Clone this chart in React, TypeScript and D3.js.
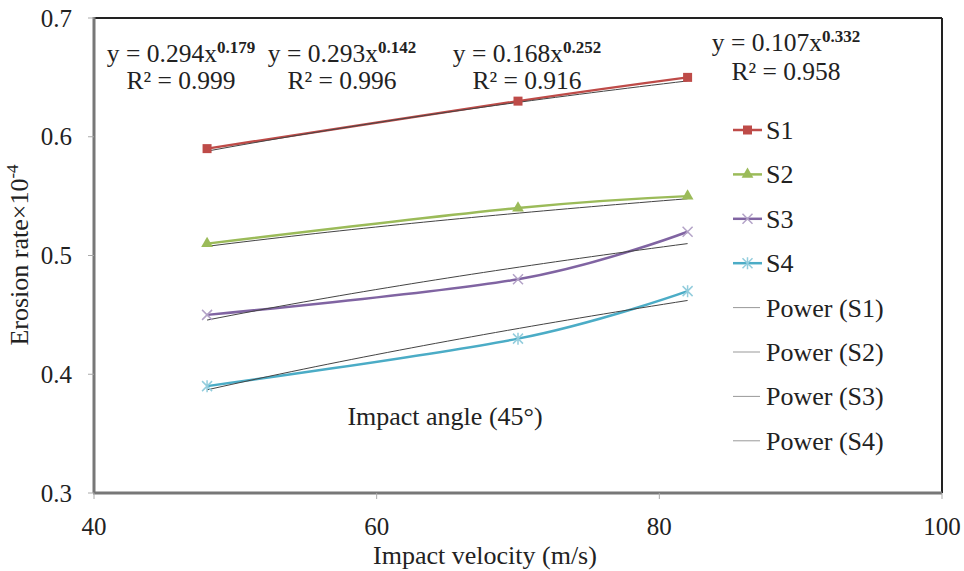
import React from "react";
import * as d3 from "d3";

// impact velocity (m/s)
const velocities = [48, 70, 82];
const seriesNames = ["S1", "S2", "S3", "S4"];
const s1 = [0.59, 0.63, 0.65];
const s2 = [0.51, 0.54, 0.55];
const s3 = [0.45, 0.48, 0.52];
const s4 = [0.39, 0.43, 0.47];
const seriesValues = [s1, s2, s3, s4];
const lineColors = ["#BE4B48", "#9BBB59", "#8064A2", "#4BACC6"];
const markerColors = ["#BE4B48", "#9BBB59", "#B3A2C7", "#93CDDD"];

// power trendlines y = a * x^b
const coefA = [0.294, 0.293, 0.168, 0.107];
const coefB = [0.179, 0.142, 0.252, 0.332];
const eqA = ["0.294", "0.293", "0.168", "0.107"];
const eqB = ["0.179", "0.142", "0.252", "0.332"];
const rSquared = ["0.999", "0.996", "0.916", "0.958"];

const xTicks = [40, 60, 80, 100];
const yTicks = [0.3, 0.4, 0.5, 0.6, 0.7];

const W = 964, H = 571;
const margin = { left: 94, right: 22, top: 18, bottom: 78 };
const font = "Liberation Serif, Times New Roman, DejaVu Serif, serif";

function Marker({ kind, x, y, color }: { kind: number; x: number; y: number; color: string }) {
    if (kind === 0) {
        return <rect x={x - 4.5} y={y - 4.5} width={9} height={9} fill={color} />;
    }
    if (kind === 1) {
        return <path d={d3.symbol(d3.symbolTriangle, 60)()!} transform={`translate(${x},${y})`} fill={color} />;
    }
    if (kind === 2) {
        return (
            <path d={`M${x - 5},${y - 5}L${x + 5},${y + 5}M${x - 5},${y + 5}L${x + 5},${y - 5}`}
                stroke={color} strokeWidth={1.5} fill="none" />
        );
    }
    return (
        <path d={`M${x - 5},${y - 5}L${x + 5},${y + 5}M${x - 5},${y + 5}L${x + 5},${y - 5}M${x},${y - 6}L${x},${y + 6}`}
            stroke={color} strokeWidth={1.5} fill="none" />
    );
}

export default function App() {
    const x = d3.scaleLinear().domain([40, 100]).range([margin.left, W - margin.right]);
    const y = d3.scaleLinear().domain([0.3, 0.7]).range([H - margin.bottom, margin.top]);

    const line = d3.line<[number, number]>()
        .x(d => x(d[0]))
        .y(d => y(d[1]))
        .curve(d3.curveCardinal.tension(0));

    const trendLine = d3.line<number>()
        .x(d => x(d));
    const xMin = d3.min(velocities)!, xMax = d3.max(velocities)!;
    const samples = d3.range(0, 41).map(i => xMin + (xMax - xMin) * i / 40);

    const eqPos = [
        { cx: 181, y1: 62, y2: 89 },
        { cx: 342, y1: 62, y2: 89 },
        { cx: 527, y1: 62, y2: 89 },
        { cx: 786, y1: 51, y2: 80 },
    ];

    const legendX = 733;
    const legendY0 = 130;
    const legendStep = 44.4;

    const x0 = margin.left, x1 = W - margin.right;
    const y0 = H - margin.bottom, y1 = margin.top;

    return (
        <svg width={W} height={H} style={{ position: "absolute", left: 0, top: 0, background: "#fff", fontFamily: font }}>
            {/* frame */}
            <line x1={x0} x2={x1} y1={y1} y2={y1} stroke="#222" strokeWidth={2} />
            <line x1={x1} x2={x1} y1={y1} y2={y0} stroke="#222" strokeWidth={2} />
            <line x1={x0} x2={x0} y1={y1 - 1} y2={y0} stroke="#777" strokeWidth={3} />
            <line x1={x0 - 1} x2={x1} y1={y0} y2={y0} stroke="#777" strokeWidth={3} />

            {/* y ticks */}
            {yTicks.map(t => (
                <g key={t}>
                    <line x1={x0 - 6} x2={x0} y1={y(t)} y2={y(t)} stroke="#aaa" strokeWidth={1} />
                    <text x={72} y={y(t) + 8.5} textAnchor="end" fontSize={25} fill="#222">{t.toFixed(1)}</text>
                </g>
            ))}
            {/* x ticks */}
            {xTicks.map(t => (
                <g key={t}>
                    <line x1={x(t)} x2={x(t)} y1={y0} y2={y0 + 6} stroke="#aaa" strokeWidth={1} />
                    <text x={x(t)} y={535} textAnchor="middle" fontSize={25} fill="#222">{t}</text>
                </g>
            ))}

            <text x={485} y={564} textAnchor="middle" fontSize={26} fill="#222">Impact velocity (m/s)</text>
            <text transform={`translate(28,255) rotate(-90)`} textAnchor="middle" fontSize={26} fill="#222">
                Erosion rate×10<tspan fontSize={17} dy={-10}>-4</tspan>
            </text>

            {/* series lines */}
            {seriesValues.map((vals, i) => (
                <path key={"s" + i}
                    d={line(velocities.map((v, j) => [v, vals[j]] as [number, number]))!}
                    fill="none" stroke={lineColors[i]} strokeWidth={2.5} />
            ))}

            {/* power trendlines */}
            {coefA.map((a, i) => (
                <path key={"t" + i}
                    d={trendLine.y(v => y(a * Math.pow(v, coefB[i])))(samples)!}
                    fill="none" stroke="#444" strokeWidth={1} />
            ))}

            {/* markers */}
            {seriesValues.map((vals, i) => vals.map((v, j) => (
                <Marker key={`m${i}-${j}`} kind={i} x={x(velocities[j])} y={y(v)} color={markerColors[i]} />
            )))}

            {/* equations */}
            {eqPos.map((p, i) => (
                <g key={"eq" + i} fill="#222">
                    <text x={p.cx} y={p.y1} textAnchor="middle" fontSize={25.5}>
                        y = {eqA[i]}x<tspan fontSize={17} fontWeight="bold" dy={-9}>{eqB[i]}</tspan>
                    </text>
                    <text x={p.cx} y={p.y2} textAnchor="middle" fontSize={25.5}>R² = {rSquared[i]}</text>
                </g>
            ))}

            <text x={445} y={425} textAnchor="middle" fontSize={26} fill="#222">Impact angle (45°)</text>

            {/* legend */}
            {seriesNames.map((n, i) => {
                const ly = legendY0 + i * legendStep;
                return (
                    <g key={"l" + i}>
                        <line x1={legendX} x2={legendX + 29} y1={ly} y2={ly} stroke={lineColors[i]} strokeWidth={2.5} />
                        <Marker kind={i} x={legendX + 14.5} y={ly} color={markerColors[i]} />
                        <text x={legendX + 33} y={ly + 9} fontSize={26} fill="#222">{n}</text>
                    </g>
                );
            })}
            {seriesNames.map((n, i) => {
                const ly = legendY0 + (i + 4) * legendStep;
                return (
                    <g key={"lp" + i}>
                        <line x1={legendX} x2={legendX + 27} y1={ly} y2={ly} stroke="#999" strokeWidth={1} />
                        <text x={legendX + 33} y={ly + 9} fontSize={26} fill="#222">Power ({n})</text>
                    </g>
                );
            })}
        </svg>
    );
}
